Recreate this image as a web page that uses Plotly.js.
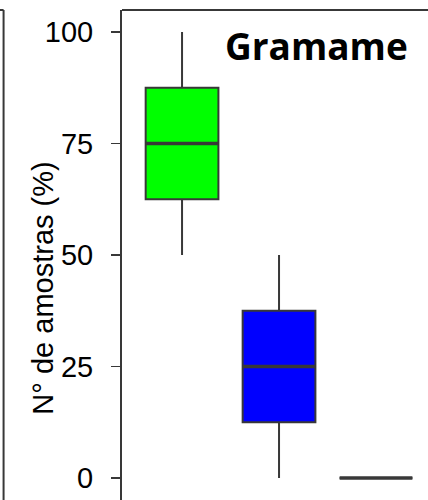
<!DOCTYPE html>
<html>
<head>
<meta charset="utf-8">
<script src="https://cdn.plot.ly/plotly-3.0.1.min.js"></script>
<style>html,body{margin:0;padding:0;background:#fff;overflow:hidden;}#chart{width:428px;height:566px;}</style>
</head>
<body>
<div id="chart"></div>
<script>
// Data
const categories = ['Grupo 1', 'Grupo 2', 'Grupo 3'];
const q1Values = [62.5, 12.5, 0];
const medianValues = [75, 25, 0];
const q3Values = [87.5, 37.5, 0];
const lowerWhiskers = [50, 0, 0];
const upperWhiskers = [100, 50, 0];
const fillColors = ['#00ff00', '#0000ff', '#ffffff'];
const yTickValues = [0, 25, 50, 75, 100];
const panelTitle = 'Gramame';
const yTitle = 'N° de amostras (%)';

const lineColor = '#383838';
const traces = [];
categories.forEach((c, i) => {
  traces.push({
    type: 'box',
    x: [c],
    q1: [q1Values[i]],
    median: [medianValues[i]],
    q3: [q3Values[i]],
    lowerfence: [lowerWhiskers[i]],
    upperfence: [upperWhiskers[i]],
    fillcolor: fillColors[i],
    line: {color: lineColor, width: 2},
    whiskerwidth: 0,
    width: 0.75,
    boxpoints: false,
    showlegend: false,
    hoverinfo: 'skip'
  });
});
// thicker median bars
categories.forEach((c, i) => {
  traces.push({
    type: 'box',
    x: [c],
    q1: [medianValues[i]],
    median: [medianValues[i]],
    q3: [medianValues[i]],
    lowerfence: [medianValues[i]],
    upperfence: [medianValues[i]],
    fillcolor: 'rgba(0,0,0,0)',
    line: {color: lineColor, width: 3.5},
    whiskerwidth: 0,
    width: 0.75,
    boxpoints: false,
    showlegend: false,
    hoverinfo: 'skip'
  });
});

const layout = {
  width: 428,
  height: 566,
  margin: {l: 122, r: 0, t: 10, b: 0},
  paper_bgcolor: '#ffffff',
  plot_bgcolor: '#ffffff',
  boxmode: 'overlay',
  showlegend: false,
  font: {family: 'Liberation Sans, Arial, sans-serif', color: '#000'},
  xaxis: {
    type: 'category',
    categoryorder: 'array',
    categoryarray: categories,
    range: [-0.619, 2.536],
    showticklabels: false,
    ticks: '',
    showgrid: false,
    zeroline: false,
    showline: false,
    fixedrange: true
  },
  yaxis: {
    range: [-19.73, 104.93],
    tickvals: yTickValues,
    ticktext: yTickValues.map(String),
    ticks: 'outside',
    ticklen: 9,
    tickwidth: 1.5,
    tickcolor: lineColor,
    ticklabelstandoff: 12,
    tickfont: {size: 29, family: 'Liberation Sans, Arial, sans-serif', color: '#000'},
    showgrid: false,
    zeroline: false,
    showline: true,
    linecolor: lineColor,
    linewidth: 2,
    automargin: false,
    title: {text: yTitle, font: {size: 29, family: 'Liberation Sans, Arial, sans-serif', color: '#000'}},
    fixedrange: true
  },
  shapes: [
    {type: 'line', xref: 'paper', yref: 'paper', x0: 0, x1: 1.01, y0: 1, y1: 1, line: {color: lineColor, width: 2}},
    {type: 'line', xref: 'paper', yref: 'paper', x0: -0.387, x1: -0.387, y0: 1, y1: 0, line: {color: lineColor, width: 2}},
    {type: 'line', xref: 'paper', yref: 'paper', x0: -0.41, x1: -0.387, y0: 1, y1: 1, line: {color: lineColor, width: 2}}
  ],
  annotations: [{
    text: '<b>' + panelTitle + '</b>',
    xref: 'paper', yref: 'paper',
    x: (316.5 - 122) / 306, y: 1 - (45 - 10) / 556,
    xanchor: 'center', yanchor: 'middle',
    showarrow: false,
    font: {size: 37, family: 'Open Sans, sans-serif', color: '#000'}
  }]
};

Plotly.newPlot('chart', traces, layout, {staticPlot: true, displayModeBar: false});
</script>
</body>
</html>
